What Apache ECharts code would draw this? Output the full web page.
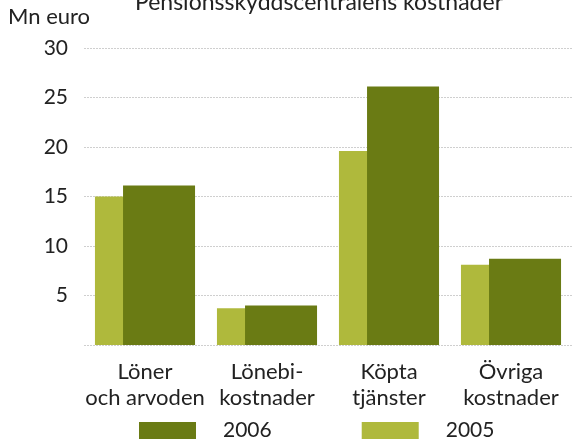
<!DOCTYPE html>
<html>
<head>
<meta charset="utf-8">
<script src="https://cdn.jsdelivr.net/npm/echarts@6/dist/echarts.min.js"></script>
<style>
  html, body { margin: 0; padding: 0; background: #fff; }
  #chart { width: 574px; height: 445px; }
</style>
</head>
<body>
<div id="chart"></div>
<script>
const categories = ['Löner\noch arvoden', 'Lönebi-\nkostnader', 'Köpta\ntjänster', 'Övriga\nkostnader']
const values2005 = [15.0, 3.7, 19.6, 8.1]
const values2006 = [16.1, 4.0, 26.1, 8.7]
const yTicks = [5, 10, 15, 20, 25, 30]

const chart = echarts.init(document.getElementById('chart'))
const font = 'Lato, "Open Sans", sans-serif'

const option = {
  animation: false,
  title: {
    text: 'Pensionsskyddscentralens kostnader',
    left: 314,
    textAlign: 'center',
    top: -14,
    textStyle: { fontFamily: font, fontSize: 23, fontWeight: 'normal', color: '#222' }
  },
  graphic: [{
    type: 'text',
    left: 8,
    top: 6,
    style: { text: 'Mn euro', font: '22px ' + font, fill: '#222' }
  }],
  legend: {
    bottom: -1,
    left: 134,
    itemWidth: 57,
    itemHeight: 17,
    itemGap: 90,
    icon: 'rect',
    data: ['2006', '2005'],
    textStyle: { fontFamily: font, fontSize: 21, color: '#222', padding: [3, 0, 0, 22] }
  },
  grid: { left: 84, right: 2, top: 48, bottom: 100 },
  xAxis: {
    type: 'category',
    data: categories,
    axisLine: { show: false },
    axisTick: { show: false },
    axisLabel: {
      fontFamily: font, fontSize: 22, color: '#222', lineHeight: 26, margin: 14,
      interval: 0
    }
  },
  yAxis: {
    type: 'value',
    min: 0,
    max: 30,
    interval: 5,
    axisLine: { show: false },
    axisTick: { show: false },
    axisLabel: {
      fontFamily: font, fontSize: 21, color: '#222', margin: 16,
      formatter: v => (yTicks.indexOf(v) >= 0 ? String(v) : '')
    },
    splitLine: { lineStyle: { color: '#cfcfcf', width: 1, type: [2, 1] } }
  },
  series: [
    {
      name: '2005',
      type: 'bar',
      data: values2005,
      barWidth: 72,
      barGap: '-61%',
      itemStyle: { color: '#afb93c' }
    },
    {
      name: '2006',
      type: 'bar',
      data: values2006,
      barWidth: 72,
      z: 3,
      itemStyle: { color: '#6a7b14' }
    }
  ]
}
chart.setOption(option)
</script>
</body>
</html>
